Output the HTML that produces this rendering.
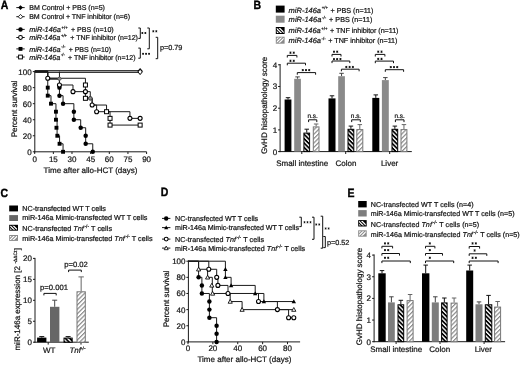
<!DOCTYPE html>
<html><head><meta charset="utf-8"><title>Figure</title>
<style>html,body{margin:0;padding:0;background:#fff;width:520px;height:365px;overflow:hidden}svg{display:block;will-change:transform}text{font-family:"Liberation Sans", sans-serif;text-rendering:geometricPrecision}</style>
</head><body>
<svg width="520" height="365" viewBox="0 0 520 365" font-family='"Liberation Sans", sans-serif'>
<defs>
<pattern id="hb" patternUnits="userSpaceOnUse" width="3.1" height="3.1" patternTransform="rotate(-45)">
  <rect width="3.1" height="3.1" fill="#000"/><rect x="0" width="1.35" height="3.1" fill="#fff"/>
</pattern>
<pattern id="hg" patternUnits="userSpaceOnUse" width="3.1" height="3.1" patternTransform="rotate(45)">
  <rect width="3.1" height="3.1" fill="#fff"/><rect x="0" width="1.2" height="3.1" fill="#8a8a8a"/>
</pattern>
<pattern id="lhb" patternUnits="userSpaceOnUse" width="3.7" height="3.7" patternTransform="rotate(-45)">
  <rect width="3.7" height="3.7" fill="#000"/><rect x="0" width="1.5" height="3.7" fill="#fff"/>
</pattern>
<pattern id="lhg" patternUnits="userSpaceOnUse" width="3.7" height="3.7" patternTransform="rotate(45)">
  <rect width="3.7" height="3.7" fill="#fff"/><rect x="0" width="1.6" height="3.7" fill="#8a8a8a"/>
</pattern>
<clipPath id="lc1"><rect x="276.7" y="27.9" width="7.000000000000001" height="5.2"/></clipPath><clipPath id="lc2"><rect x="276.7" y="37.6" width="7.000000000000001" height="5.2"/></clipPath><clipPath id="lc3"><rect x="10.1" y="225.70000000000002" width="7.000000000000001" height="4.1000000000000005"/></clipPath><clipPath id="lc4"><rect x="10.1" y="235.9" width="7.000000000000001" height="4.1000000000000005"/></clipPath><clipPath id="lc5"><rect x="359.09999999999997" y="221.0" width="6.7" height="4.6000000000000005"/></clipPath><clipPath id="lc6"><rect x="359.09999999999997" y="231.20000000000002" width="6.7" height="4.6000000000000005"/></clipPath></defs>
<rect width="520" height="365" fill="#fff"/>
<text transform="translate(0.8 9.2) scale(1 1.14)" x="0" y="0" font-size="10.5" font-weight="bold" fill="#000" stroke="#000" stroke-width="0.35">A</text>
<line x1="16.3" y1="7.6" x2="24.7" y2="7.6" stroke="#1a1a1a" stroke-width="1.0"/>
<path d="M18.125 7.6L20.5 5.225L22.875 7.6L20.5 9.975Z" fill="#000"/>
<line x1="16.3" y1="16.7" x2="24.7" y2="16.7" stroke="#1a1a1a" stroke-width="1.0"/>
<path d="M18.22 16.7L20.5 14.42L22.78 16.7L20.5 18.98Z" fill="#fff" stroke="#000" stroke-width="0.855"/>
<line x1="16.3" y1="29.4" x2="24.7" y2="29.4" stroke="#1a1a1a" stroke-width="1.0"/>
<circle cx="20.5" cy="29.4" r="2.2325" fill="#000"/>
<line x1="16.3" y1="37.5" x2="24.7" y2="37.5" stroke="#1a1a1a" stroke-width="1.0"/>
<circle cx="20.5" cy="37.5" r="1.9" fill="#fff" stroke="#000" stroke-width="1.045"/>
<line x1="16.3" y1="48.9" x2="24.7" y2="48.9" stroke="#1a1a1a" stroke-width="1.0"/>
<rect x="18.552500000000002" y="46.9525" width="3.8949999999999996" height="3.8949999999999996" fill="#000"/>
<line x1="16.3" y1="57.0" x2="24.7" y2="57.0" stroke="#1a1a1a" stroke-width="1.0"/>
<rect x="18.6" y="55.1" width="3.8" height="3.8" fill="#fff" stroke="#000" stroke-width="0.95"/>
<text x="29.2" y="10.1" font-size="7.05" text-anchor="start" font-weight="normal" font-style="normal" fill="#151515" stroke="#151515" stroke-width="0.22" textLength="75.70" lengthAdjust="spacing">BM Control + PBS (n=5)</text>
<text x="29.2" y="19.3" font-size="7.05" text-anchor="start" font-weight="normal" font-style="normal" fill="#151515" stroke="#151515" stroke-width="0.22" textLength="100.90" lengthAdjust="spacing">BM Control + TNF inhibitor (n=6)</text>
<text x="29.2" y="31.9" font-size="7.05" text-anchor="start" font-weight="normal" font-style="normal" fill="#151515" stroke="#151515" stroke-width="0.22" textLength="84.50" lengthAdjust="spacing"><tspan font-style="italic" font-size="7.3">miR-146a</tspan><tspan font-size="4.3" dy="-3.4" dx="0.7" font-style="normal">+/+</tspan><tspan dy="3.4" dx="1.4"> </tspan>+ PBS (n=10)</text>
<text x="29.2" y="40.4" font-size="7.05" text-anchor="start" font-weight="normal" font-style="normal" fill="#151515" stroke="#151515" stroke-width="0.22" textLength="108.70" lengthAdjust="spacing"><tspan font-style="italic" font-size="7.3">miR-146a</tspan><tspan font-size="4.3" dy="-3.4" dx="0.7" font-style="normal">+/+</tspan><tspan dy="3.4" dx="1.4"> </tspan>+ TNF inhibitor (n=12)</text>
<text x="29.2" y="51.6" font-size="7.05" text-anchor="start" font-weight="normal" font-style="normal" fill="#151515" stroke="#151515" stroke-width="0.22" textLength="81.90" lengthAdjust="spacing"><tspan font-style="italic" font-size="7.3">miR-146a</tspan><tspan font-size="4.3" dy="-3.4" dx="0.7" font-style="normal">-/-</tspan><tspan dy="3.4" dx="1.4"> </tspan>+ PBS (n=10)</text>
<text x="29.2" y="59.7" font-size="7.05" text-anchor="start" font-weight="normal" font-style="normal" fill="#151515" stroke="#151515" stroke-width="0.22" textLength="106.30" lengthAdjust="spacing"><tspan font-style="italic" font-size="7.3">miR-146a</tspan><tspan font-size="4.3" dy="-3.4" dx="0.7" font-style="normal">-/-</tspan><tspan dy="3.4" dx="1.4"> </tspan>+ TNF inhibitor (n=12)</text>
<path d="M138.3 28.0H140.3V38.4H138.3" stroke="#111" stroke-width="1.0" fill="none"/>
<path d="M142.40 32.05L142.40 33.95M141.58 32.52L143.22 33.48M143.22 32.52L141.58 33.48M145.40 32.05L145.40 33.95M144.58 32.52L146.22 33.48M146.22 32.52L144.58 33.48" stroke="#111" stroke-width="0.95" fill="none"/>
<path d="M138.3 48.1H140.3V58.2H138.3" stroke="#111" stroke-width="1.0" fill="none"/>
<path d="M143.10 52.85L143.10 54.75M142.28 53.32L143.92 54.27M143.92 53.32L142.28 54.27M146.10 52.85L146.10 54.75M145.28 53.32L146.92 54.27M146.92 53.32L145.28 54.27M149.10 52.85L149.10 54.75M148.28 53.32L149.92 54.27M149.92 53.32L148.28 54.27" stroke="#111" stroke-width="0.95" fill="none"/>
<path d="M147.3 28.0H149.3V48.8H147.3" stroke="#111" stroke-width="1.0" fill="none"/>
<path d="M153.35 30.35L153.35 32.25M152.53 30.82L154.17 31.78M154.17 30.82L152.53 31.78M156.35 30.35L156.35 32.25M155.53 30.82L157.17 31.78M157.17 30.82L155.53 31.78" stroke="#111" stroke-width="0.95" fill="none"/>
<path d="M155.7 37.3H157.7V58.7H155.7" stroke="#111" stroke-width="1.0" fill="none"/>
<text x="159.9" y="50.3" font-size="7.3" text-anchor="start" font-weight="normal" font-style="normal" fill="#151515" stroke="#151515" stroke-width="0.22">p=0.79</text>
<line x1="34.8" y1="71.1" x2="34.8" y2="152.3" stroke="#1a1a1a" stroke-width="1"/>
<line x1="34.3" y1="151.8" x2="146.6" y2="151.8" stroke="#1a1a1a" stroke-width="1"/>
<line x1="32.8" y1="151.8" x2="34.8" y2="151.8" stroke="#1a1a1a" stroke-width="1"/>
<text x="31.7" y="154.70000000000002" font-size="8" text-anchor="end" font-weight="normal" font-style="normal" fill="#151515" stroke="#151515" stroke-width="0.22">0</text>
<line x1="32.8" y1="135.76000000000002" x2="34.8" y2="135.76000000000002" stroke="#1a1a1a" stroke-width="1"/>
<text x="31.7" y="138.66000000000003" font-size="8" text-anchor="end" font-weight="normal" font-style="normal" fill="#151515" stroke="#151515" stroke-width="0.22">20</text>
<line x1="32.8" y1="119.72000000000001" x2="34.8" y2="119.72000000000001" stroke="#1a1a1a" stroke-width="1"/>
<text x="31.7" y="122.62000000000002" font-size="8" text-anchor="end" font-weight="normal" font-style="normal" fill="#151515" stroke="#151515" stroke-width="0.22">40</text>
<line x1="32.8" y1="103.68" x2="34.8" y2="103.68" stroke="#1a1a1a" stroke-width="1"/>
<text x="31.7" y="106.58000000000001" font-size="8" text-anchor="end" font-weight="normal" font-style="normal" fill="#151515" stroke="#151515" stroke-width="0.22">60</text>
<line x1="32.8" y1="87.64000000000001" x2="34.8" y2="87.64000000000001" stroke="#1a1a1a" stroke-width="1"/>
<text x="31.7" y="90.54000000000002" font-size="8" text-anchor="end" font-weight="normal" font-style="normal" fill="#151515" stroke="#151515" stroke-width="0.22">80</text>
<line x1="32.8" y1="71.60000000000001" x2="34.8" y2="71.60000000000001" stroke="#1a1a1a" stroke-width="1"/>
<text x="31.7" y="74.50000000000001" font-size="8" text-anchor="end" font-weight="normal" font-style="normal" fill="#151515" stroke="#151515" stroke-width="0.22">100</text>
<line x1="34.7" y1="151.8" x2="34.7" y2="154.0" stroke="#1a1a1a" stroke-width="1"/>
<text x="34.7" y="162.0" font-size="8" text-anchor="middle" font-weight="normal" font-style="normal" fill="#151515" stroke="#151515" stroke-width="0.22">0</text>
<line x1="53.349500000000006" y1="151.8" x2="53.349500000000006" y2="154.0" stroke="#1a1a1a" stroke-width="1"/>
<text x="53.349500000000006" y="162.0" font-size="8" text-anchor="middle" font-weight="normal" font-style="normal" fill="#151515" stroke="#151515" stroke-width="0.22">15</text>
<line x1="71.999" y1="151.8" x2="71.999" y2="154.0" stroke="#1a1a1a" stroke-width="1"/>
<text x="71.999" y="162.0" font-size="8" text-anchor="middle" font-weight="normal" font-style="normal" fill="#151515" stroke="#151515" stroke-width="0.22">30</text>
<line x1="90.64850000000001" y1="151.8" x2="90.64850000000001" y2="154.0" stroke="#1a1a1a" stroke-width="1"/>
<text x="90.64850000000001" y="162.0" font-size="8" text-anchor="middle" font-weight="normal" font-style="normal" fill="#151515" stroke="#151515" stroke-width="0.22">45</text>
<line x1="109.298" y1="151.8" x2="109.298" y2="154.0" stroke="#1a1a1a" stroke-width="1"/>
<text x="109.298" y="162.0" font-size="8" text-anchor="middle" font-weight="normal" font-style="normal" fill="#151515" stroke="#151515" stroke-width="0.22">60</text>
<line x1="127.9475" y1="151.8" x2="127.9475" y2="154.0" stroke="#1a1a1a" stroke-width="1"/>
<text x="127.9475" y="162.0" font-size="8" text-anchor="middle" font-weight="normal" font-style="normal" fill="#151515" stroke="#151515" stroke-width="0.22">75</text>
<line x1="146.597" y1="151.8" x2="146.597" y2="154.0" stroke="#1a1a1a" stroke-width="1"/>
<text x="146.597" y="162.0" font-size="8" text-anchor="middle" font-weight="normal" font-style="normal" fill="#151515" stroke="#151515" stroke-width="0.22">90</text>
<text x="90.5" y="173.3" font-size="8" text-anchor="middle" font-weight="normal" font-style="normal" fill="#151515" stroke="#151515" stroke-width="0.22">Time after allo-HCT (days)</text>
<text x="17.0" y="108.9" font-size="8" text-anchor="middle" font-weight="normal" font-style="normal" fill="#151515" stroke="#151515" stroke-width="0.22" transform="rotate(-90 17.0 108.9)">Percent survival</text>
<path d="M34.7 70.55H140.13184" stroke="#383838" stroke-width="1.05" fill="none"/>
<path d="M34.7 72.35H140.13184" stroke="#383838" stroke-width="1.05" fill="none"/>
<path d="M34.7 71.45H140.13184" stroke="#8a8a8a" stroke-width="0.8" fill="none"/>
<path d="M34.7 71.4H47.754650000000005" stroke="#111" stroke-width="1.8" fill="none"/>
<path d="M34.70 71.60H47.75V78.26H85.43V98.31H92.14V105.04H106.56V111.70H110.04V125.09H140.13V125.09" stroke="#1a1a1a" stroke-width="1.0" fill="none"/>
<path d="M47.754650000000005 79.45960000000001H59.44167" stroke="#555" stroke-width="1.0" fill="none"/>
<path d="M34.70 71.60H47.75V78.26H59.44V84.99H72.99V91.65H90.28V98.31H92.14V105.04H96.62V111.70H129.94V118.36H140.13V118.36" stroke="#1a1a1a" stroke-width="1.0" fill="none"/>
<path d="M59.44 71.60H59.44V95.66H63.05V103.68H73.86V119.72H80.70V127.74H85.68V143.78H92.76V151.80" stroke="#1a1a1a" stroke-width="1.0" fill="none"/>
<path d="M34.70 71.60H47.75V95.66H50.99V103.68H55.96V119.72H57.08V135.76H59.57V143.78H63.05V151.80" stroke="#1a1a1a" stroke-width="1.0" fill="none"/>
<rect x="45.80715000000001" y="85.69250000000001" width="3.8949999999999996" height="3.8949999999999996" fill="#000"/>
<rect x="45.80715000000001" y="93.7125" width="3.8949999999999996" height="3.8949999999999996" fill="#000"/>
<rect x="49.039730000000006" y="101.7325" width="3.8949999999999996" height="3.8949999999999996" fill="#000"/>
<rect x="54.012930000000004" y="109.75250000000001" width="3.8949999999999996" height="3.8949999999999996" fill="#000"/>
<rect x="54.012930000000004" y="117.77250000000001" width="3.8949999999999996" height="3.8949999999999996" fill="#000"/>
<rect x="54.510250000000006" y="125.7925" width="3.8949999999999996" height="3.8949999999999996" fill="#000"/>
<rect x="55.38056000000001" y="133.81250000000003" width="3.8949999999999996" height="3.8949999999999996" fill="#000"/>
<rect x="57.618500000000004" y="141.8325" width="3.8949999999999996" height="3.8949999999999996" fill="#000"/>
<rect x="61.099740000000004" y="149.85250000000002" width="3.8949999999999996" height="3.8949999999999996" fill="#000"/>
<circle cx="59.44167" cy="87.64000000000001" r="2.2325" fill="#000"/>
<circle cx="59.44167" cy="95.66000000000001" r="2.2325" fill="#000"/>
<circle cx="63.04724" cy="103.68" r="2.2325" fill="#000"/>
<circle cx="73.86395" cy="111.70000000000002" r="2.2325" fill="#000"/>
<circle cx="73.86395" cy="119.72000000000001" r="2.2325" fill="#000"/>
<circle cx="80.7021" cy="127.74000000000001" r="2.2325" fill="#000"/>
<circle cx="85.67530000000001" cy="135.76000000000002" r="2.2325" fill="#000"/>
<circle cx="85.67530000000001" cy="143.78" r="2.2325" fill="#000"/>
<circle cx="92.76211" cy="151.8" r="2.2325" fill="#000"/>
<path d="M57.281670000000005 78.81800000000001L59.44167 76.65800000000002L61.60167 78.81800000000001L59.44167 80.97800000000001Z" fill="#888" stroke="#333" stroke-width="0.7"/>
<rect x="83.42663999999999" y="82.99340000000001" width="4.0" height="4.0" fill="#fff" stroke="#000" stroke-width="1.0"/>
<rect x="83.42663999999999" y="96.3066" width="4.0" height="4.0" fill="#fff" stroke="#000" stroke-width="1.0"/>
<rect x="104.56274" y="109.70000000000002" width="4.0" height="4.0" fill="#fff" stroke="#000" stroke-width="1.0"/>
<rect x="108.04398" y="116.35660000000001" width="4.0" height="4.0" fill="#fff" stroke="#000" stroke-width="1.0"/>
<rect x="108.04398" y="123.09340000000002" width="4.0" height="4.0" fill="#fff" stroke="#000" stroke-width="1.0"/>
<rect x="138.13184" y="123.09340000000002" width="4.0" height="4.0" fill="#fff" stroke="#000" stroke-width="1.0"/>
<circle cx="47.754650000000005" cy="78.2566" r="2.0" fill="#fff" stroke="#000" stroke-width="1.1"/>
<circle cx="59.44167" cy="84.99340000000001" r="2.0" fill="#fff" stroke="#000" stroke-width="1.1"/>
<circle cx="72.99364" cy="91.65" r="2.0" fill="#fff" stroke="#000" stroke-width="1.1"/>
<circle cx="85.42663999999999" cy="91.65" r="2.0" fill="#fff" stroke="#000" stroke-width="1.1"/>
<circle cx="92.14046000000002" cy="105.04340000000002" r="2.0" fill="#fff" stroke="#000" stroke-width="1.1"/>
<circle cx="96.61634000000001" cy="111.70000000000002" r="2.0" fill="#fff" stroke="#000" stroke-width="1.1"/>
<circle cx="129.93678" cy="118.35660000000001" r="2.0" fill="#fff" stroke="#000" stroke-width="1.1"/>
<circle cx="140.13184" cy="118.35660000000001" r="2.0" fill="#fff" stroke="#000" stroke-width="1.1"/>
<circle cx="90.27551000000001" cy="98.3066" r="1.9" fill="#8a8a8a" stroke="#333" stroke-width="0.9"/>
<path d="M137.53184000000002 71.0L140.13184 67.9L142.73184 71.0L140.13184 74.1Z" fill="#000"/>
<path d="M137.93184000000002 71.9L140.13184 69.2L142.33184 71.9L140.13184 74.6Z" fill="#fff" stroke="#000" stroke-width="1.0"/>
<text transform="translate(253.4 9.2) scale(1 1.14)" x="0" y="0" font-size="10.5" font-weight="bold" fill="#000" stroke="#000" stroke-width="0.35">B</text>
<rect x="275.8" y="5.6" width="8.8" height="7.0" fill="#000"/>
<rect x="275.8" y="15.7" width="8.8" height="7.0" fill="#8a8a8a"/>
<rect x="275.8" y="27.0" width="8.8" height="7.0" fill="#000"/>
<path d="M270.50 25.50L280.50 35.50M273.70 25.50L283.70 35.50M276.90 25.50L286.90 35.50" stroke="#fff" stroke-width="1.25" clip-path="url(#lc1)"/>
<rect x="275.8" y="36.7" width="8.8" height="7.0" fill="#8a8a8a"/>
<path d="M270.50 45.20L280.50 35.20M273.70 45.20L283.70 35.20M276.90 45.20L286.90 35.20" stroke="#fff" stroke-width="1.25" clip-path="url(#lc2)"/>
<text x="288.6" y="12.6" font-size="7.2" text-anchor="start" font-weight="normal" font-style="normal" fill="#151515" stroke="#151515" stroke-width="0.22" textLength="84.90" lengthAdjust="spacing"><tspan font-style="italic" font-size="7.5">miR-146a</tspan><tspan font-size="4.3" dy="-3.4" dx="0.7" font-style="normal">+/+</tspan><tspan dy="3.4" dx="0.7"> </tspan>+ PBS (n=11)</text>
<text x="288.6" y="22.4" font-size="7.2" text-anchor="start" font-weight="normal" font-style="normal" fill="#151515" stroke="#151515" stroke-width="0.22" textLength="83.90" lengthAdjust="spacing"><tspan font-style="italic" font-size="7.5">miR-146a</tspan><tspan font-size="4.3" dy="-3.4" dx="0.7" font-style="normal">-/-</tspan><tspan dy="3.4" dx="0.7"> </tspan>+ PBS (n=11)</text>
<text x="288.6" y="33.0" font-size="7.2" text-anchor="start" font-weight="normal" font-style="normal" fill="#151515" stroke="#151515" stroke-width="0.22" textLength="109.90" lengthAdjust="spacing"><tspan font-style="italic" font-size="7.5">miR-146a</tspan><tspan font-size="4.3" dy="-3.4" dx="0.7" font-style="normal">+/+</tspan><tspan dy="3.4" dx="0.7"> </tspan>+ TNF inhibitor (n=11)</text>
<text x="288.6" y="43.1" font-size="7.2" text-anchor="start" font-weight="normal" font-style="normal" fill="#151515" stroke="#151515" stroke-width="0.22" textLength="108.90" lengthAdjust="spacing"><tspan font-style="italic" font-size="7.5">miR-146a</tspan><tspan font-size="4.3" dy="-3.4" dx="0.7" font-style="normal">-/-</tspan><tspan dy="3.4" dx="0.7"> </tspan>+ TNF inhibitor (n=11)</text>
<line x1="280.1" y1="64.0" x2="280.1" y2="152.1" stroke="#1a1a1a" stroke-width="1"/>
<line x1="279.6" y1="151.6" x2="411.8" y2="151.6" stroke="#1a1a1a" stroke-width="1"/>
<line x1="278.1" y1="151.6" x2="280.1" y2="151.6" stroke="#1a1a1a" stroke-width="1"/>
<text x="277.3" y="154.5" font-size="8" text-anchor="end" font-weight="normal" font-style="normal" fill="#151515" stroke="#151515" stroke-width="0.22">0</text>
<line x1="278.1" y1="129.9" x2="280.1" y2="129.9" stroke="#1a1a1a" stroke-width="1"/>
<text x="277.3" y="132.8" font-size="8" text-anchor="end" font-weight="normal" font-style="normal" fill="#151515" stroke="#151515" stroke-width="0.22">1</text>
<line x1="278.1" y1="108.19999999999999" x2="280.1" y2="108.19999999999999" stroke="#1a1a1a" stroke-width="1"/>
<text x="277.3" y="111.1" font-size="8" text-anchor="end" font-weight="normal" font-style="normal" fill="#151515" stroke="#151515" stroke-width="0.22">2</text>
<line x1="278.1" y1="86.5" x2="280.1" y2="86.5" stroke="#1a1a1a" stroke-width="1"/>
<text x="277.3" y="89.4" font-size="8" text-anchor="end" font-weight="normal" font-style="normal" fill="#151515" stroke="#151515" stroke-width="0.22">3</text>
<line x1="278.1" y1="64.8" x2="280.1" y2="64.8" stroke="#1a1a1a" stroke-width="1"/>
<text x="277.3" y="67.7" font-size="8" text-anchor="end" font-weight="normal" font-style="normal" fill="#151515" stroke="#151515" stroke-width="0.22">4</text>
<line x1="301.8" y1="151.6" x2="301.8" y2="154.0" stroke="#1a1a1a" stroke-width="1"/>
<line x1="345.7" y1="151.6" x2="345.7" y2="154.0" stroke="#1a1a1a" stroke-width="1"/>
<line x1="389.7" y1="151.6" x2="389.7" y2="154.0" stroke="#1a1a1a" stroke-width="1"/>
<text x="302.2" y="165.8" font-size="8" text-anchor="middle" font-weight="normal" font-style="normal" fill="#151515" stroke="#151515" stroke-width="0.22">Small intestine</text>
<text x="346.0" y="165.8" font-size="8" text-anchor="middle" font-weight="normal" font-style="normal" fill="#151515" stroke="#151515" stroke-width="0.22">Colon</text>
<text x="389.6" y="165.8" font-size="8" text-anchor="middle" font-weight="normal" font-style="normal" fill="#151515" stroke="#151515" stroke-width="0.22">Liver</text>
<text x="267.5" y="105.4" font-size="8" text-anchor="middle" font-weight="normal" font-style="normal" fill="#151515" stroke="#151515" stroke-width="0.22" transform="rotate(-90 267.5 105.4)">GvHD histopathology score</text>
<line x1="288.0" y1="99.5" x2="288.0" y2="97.7" stroke="#111" stroke-width="1.0"/>
<line x1="285.75" y1="97.7" x2="290.25" y2="97.7" stroke="#111" stroke-width="1.0"/>
<rect x="284.6" y="99.5" width="6.7999999999999545" height="52.099999999999994" fill="#000"/>
<line x1="297.54999999999995" y1="78.8" x2="297.54999999999995" y2="76.9" stroke="#444" stroke-width="1.0"/>
<line x1="295.29999999999995" y1="76.9" x2="299.79999999999995" y2="76.9" stroke="#444" stroke-width="1.0"/>
<rect x="294.2" y="78.8" width="6.699999999999989" height="72.8" fill="#8a8a8a"/>
<line x1="306.75" y1="132.6" x2="306.75" y2="129.2" stroke="#111" stroke-width="1.0"/>
<line x1="304.5" y1="129.2" x2="309.0" y2="129.2" stroke="#111" stroke-width="1.0"/>
<rect x="303.9" y="133.1" width="5.7000000000000455" height="18.5" fill="url(#hb)" stroke="#000" stroke-width="1"/>
<line x1="316.15" y1="126.4" x2="316.15" y2="124.0" stroke="#666" stroke-width="1.0"/>
<line x1="313.9" y1="124.0" x2="318.4" y2="124.0" stroke="#666" stroke-width="1.0"/>
<rect x="313.3" y="126.9" width="5.699999999999989" height="24.69999999999999" fill="url(#hg)" stroke="#777" stroke-width="1"/>
<line x1="332.0" y1="98.4" x2="332.0" y2="95.8" stroke="#111" stroke-width="1.0"/>
<line x1="329.75" y1="95.8" x2="334.25" y2="95.8" stroke="#111" stroke-width="1.0"/>
<rect x="328.5" y="98.4" width="7.0" height="53.19999999999999" fill="#000"/>
<line x1="341.54999999999995" y1="76.2" x2="341.54999999999995" y2="73.3" stroke="#444" stroke-width="1.0"/>
<line x1="339.29999999999995" y1="73.3" x2="343.79999999999995" y2="73.3" stroke="#444" stroke-width="1.0"/>
<rect x="338.2" y="76.2" width="6.699999999999989" height="75.39999999999999" fill="#8a8a8a"/>
<line x1="350.9" y1="128.8" x2="350.9" y2="126.1" stroke="#111" stroke-width="1.0"/>
<line x1="348.65" y1="126.1" x2="353.15" y2="126.1" stroke="#111" stroke-width="1.0"/>
<rect x="348.0" y="129.3" width="5.800000000000011" height="22.299999999999983" fill="url(#hb)" stroke="#000" stroke-width="1"/>
<line x1="359.8" y1="129.1" x2="359.8" y2="124.6" stroke="#666" stroke-width="1.0"/>
<line x1="357.55" y1="124.6" x2="362.05" y2="124.6" stroke="#666" stroke-width="1.0"/>
<rect x="356.8" y="129.6" width="6.0" height="22.0" fill="url(#hg)" stroke="#777" stroke-width="1"/>
<line x1="375.8" y1="97.9" x2="375.8" y2="94.9" stroke="#111" stroke-width="1.0"/>
<line x1="373.55" y1="94.9" x2="378.05" y2="94.9" stroke="#111" stroke-width="1.0"/>
<rect x="372.3" y="97.9" width="7.0" height="53.69999999999999" fill="#000"/>
<line x1="385.35" y1="80.1" x2="385.35" y2="77.6" stroke="#444" stroke-width="1.0"/>
<line x1="383.1" y1="77.6" x2="387.6" y2="77.6" stroke="#444" stroke-width="1.0"/>
<rect x="381.9" y="80.1" width="6.900000000000034" height="71.5" fill="#8a8a8a"/>
<line x1="394.85" y1="128.8" x2="394.85" y2="126.1" stroke="#111" stroke-width="1.0"/>
<line x1="392.6" y1="126.1" x2="397.1" y2="126.1" stroke="#111" stroke-width="1.0"/>
<rect x="392.0" y="129.3" width="5.699999999999989" height="22.299999999999983" fill="url(#hb)" stroke="#000" stroke-width="1"/>
<line x1="403.95" y1="129.1" x2="403.95" y2="124.6" stroke="#666" stroke-width="1.0"/>
<line x1="401.7" y1="124.6" x2="406.2" y2="124.6" stroke="#666" stroke-width="1.0"/>
<rect x="401.0" y="129.6" width="5.899999999999977" height="22.0" fill="url(#hg)" stroke="#777" stroke-width="1"/>
<path d="M287.3 57.5V55.4H296.9V57.5" stroke="#111" stroke-width="1.0" fill="none"/>
<path d="M290.48 51.62L290.48 53.78M289.54 52.16L291.41 53.24M291.41 52.16L289.54 53.24M293.73 51.62L293.73 53.78M292.79 52.16L294.66 53.24M294.66 52.16L292.79 53.24" stroke="#111" stroke-width="0.95" fill="none"/>
<path d="M287.3 65.3V63.2H305.5V65.3" stroke="#111" stroke-width="1.0" fill="none"/>
<path d="M290.48 59.72L290.48 61.88M289.54 60.26L291.41 61.34M291.41 60.26L289.54 61.34M293.73 59.72L293.73 61.88M292.79 60.26L294.66 61.34M294.66 60.26L292.79 61.34" stroke="#111" stroke-width="0.95" fill="none"/>
<path d="M297.3 74.69999999999999V72.6H315.6V74.69999999999999" stroke="#111" stroke-width="1.0" fill="none"/>
<path d="M302.75 69.02L302.75 71.18M301.81 69.56L303.69 70.64M303.69 69.56L301.81 70.64M306.00 69.02L306.00 71.18M305.06 69.56L306.94 70.64M306.94 69.56L305.06 70.64M309.25 69.02L309.25 71.18M308.31 69.56L310.19 70.64M310.19 69.56L308.31 70.64" stroke="#111" stroke-width="0.95" fill="none"/>
<path d="M332.0 56.5V54.4H341.0V56.5" stroke="#111" stroke-width="1.0" fill="none"/>
<path d="M333.98 50.62L333.98 52.78M333.04 51.16L334.91 52.24M334.91 51.16L333.04 52.24M337.23 50.62L337.23 52.78M336.29 51.16L338.16 52.24M338.16 51.16L336.29 52.24" stroke="#111" stroke-width="0.95" fill="none"/>
<path d="M332.0 63.1V61.0H349.8V63.1" stroke="#111" stroke-width="1.0" fill="none"/>
<path d="M333.95 58.02L333.95 60.18M333.01 58.56L334.89 59.64M334.89 58.56L333.01 59.64M337.20 58.02L337.20 60.18M336.26 58.56L338.14 59.64M338.14 58.56L336.26 59.64M340.45 58.02L340.45 60.18M339.51 58.56L341.39 59.64M341.39 58.56L339.51 59.64" stroke="#111" stroke-width="0.95" fill="none"/>
<path d="M341.4 71.3V69.2H359.1V71.3" stroke="#111" stroke-width="1.0" fill="none"/>
<path d="M346.35 65.92L346.35 68.08M345.41 66.46L347.29 67.54M347.29 66.46L345.41 67.54M349.60 65.92L349.60 68.08M348.66 66.46L350.54 67.54M350.54 66.46L348.66 67.54M352.85 65.92L352.85 68.08M351.91 66.46L353.79 67.54M353.79 66.46L351.91 67.54" stroke="#111" stroke-width="0.95" fill="none"/>
<path d="M375.3 56.5V54.4H384.9V56.5" stroke="#111" stroke-width="1.0" fill="none"/>
<path d="M378.27 50.62L378.27 52.78M377.34 51.16L379.21 52.24M379.21 51.16L377.34 52.24M381.52 50.62L381.52 52.78M380.59 51.16L382.46 52.24M382.46 51.16L380.59 52.24" stroke="#111" stroke-width="0.95" fill="none"/>
<path d="M375.3 63.2V61.1H393.5V63.2" stroke="#111" stroke-width="1.0" fill="none"/>
<path d="M378.27 57.82L378.27 59.98M377.34 58.36L379.21 59.44M379.21 58.36L377.34 59.44M381.52 57.82L381.52 59.98M380.59 58.36L382.46 59.44M382.46 58.36L380.59 59.44" stroke="#111" stroke-width="0.95" fill="none"/>
<path d="M385.3 71.8V69.7H403.6V71.8" stroke="#111" stroke-width="1.0" fill="none"/>
<path d="M390.75 66.02L390.75 68.18M389.81 66.56L391.69 67.64M391.69 66.56L389.81 67.64M394.00 66.02L394.00 68.18M393.06 66.56L394.94 67.64M394.94 66.56L393.06 67.64M397.25 66.02L397.25 68.18M396.31 66.56L398.19 67.64M398.19 66.56L396.31 67.64" stroke="#111" stroke-width="0.95" fill="none"/>
<path d="M308.6 122.1V119.8H316.8V122.1" stroke="#111" stroke-width="1.0" fill="none"/>
<text x="312.70000000000005" y="117.6" font-size="6.4" text-anchor="middle" font-weight="normal" font-style="normal" fill="#151515" stroke="#151515" stroke-width="0.22">n.s.</text>
<path d="M351.7 122.1V119.8H360.3V122.1" stroke="#111" stroke-width="1.0" fill="none"/>
<text x="356.0" y="117.6" font-size="6.4" text-anchor="middle" font-weight="normal" font-style="normal" fill="#151515" stroke="#151515" stroke-width="0.22">n.s.</text>
<path d="M395.4 122.1V119.8H404.0V122.1" stroke="#111" stroke-width="1.0" fill="none"/>
<text x="399.7" y="117.6" font-size="6.4" text-anchor="middle" font-weight="normal" font-style="normal" fill="#151515" stroke="#151515" stroke-width="0.22">n.s.</text>
<text transform="translate(0.6 197.2) scale(1 1.14)" x="0" y="0" font-size="10.5" font-weight="bold" fill="#000" stroke="#000" stroke-width="0.35">C</text>
<rect x="9.2" y="205.5" width="8.8" height="5.9" fill="#000"/>
<rect x="9.2" y="215.1" width="8.8" height="5.9" fill="#666"/>
<rect x="9.2" y="224.8" width="8.8" height="5.9" fill="#000"/>
<path d="M3.90 222.75L13.90 232.75M7.10 222.75L17.10 232.75M10.30 222.75L20.30 232.75" stroke="#fff" stroke-width="1.25" clip-path="url(#lc3)"/>
<rect x="9.2" y="235.0" width="8.8" height="5.9" fill="#8a8a8a"/>
<path d="M3.90 242.95L13.90 232.95M7.10 242.95L17.10 232.95M10.30 242.95L20.30 232.95" stroke="#fff" stroke-width="1.25" clip-path="url(#lc4)"/>
<text x="22.3" y="210.7" font-size="7.25" text-anchor="start" font-weight="normal" font-style="normal" fill="#151515" stroke="#151515" stroke-width="0.22" textLength="83.60" lengthAdjust="spacing">NC-transfected WT T cells</text>
<text x="22.3" y="220.4" font-size="7.25" text-anchor="start" font-weight="normal" font-style="normal" fill="#151515" stroke="#151515" stroke-width="0.22" textLength="125.10" lengthAdjust="spacing">miR-146a Mimic-transfected WT T cells</text>
<text x="22.3" y="230.9" font-size="7.25" text-anchor="start" font-weight="normal" font-style="normal" fill="#151515" stroke="#151515" stroke-width="0.22" textLength="89.70" lengthAdjust="spacing">NC-transfected <tspan font-style="italic">Tnf</tspan><tspan font-size="4.7" dy="-3.0" dx="0.7" font-style="normal">-/-</tspan><tspan dy="3.0" dx="0.2"> </tspan>T cells</text>
<text x="22.3" y="241.2" font-size="7.25" text-anchor="start" font-weight="normal" font-style="normal" fill="#151515" stroke="#151515" stroke-width="0.22" textLength="130.20" lengthAdjust="spacing">miR-146a Mimic-transfected <tspan font-style="italic">Tnf</tspan><tspan font-size="4.7" dy="-3.0" dx="0.7" font-style="normal">-/-</tspan><tspan dy="3.0" dx="0.2"> </tspan>T cells</text>
<line x1="35.0" y1="257.9" x2="35.0" y2="342.7" stroke="#1a1a1a" stroke-width="1"/>
<line x1="34.5" y1="342.2" x2="88.8" y2="342.2" stroke="#1a1a1a" stroke-width="1"/>
<line x1="33.0" y1="342.2" x2="35.0" y2="342.2" stroke="#1a1a1a" stroke-width="1"/>
<text x="31.9" y="345.09999999999997" font-size="8" text-anchor="end" font-weight="normal" font-style="normal" fill="#151515" stroke="#151515" stroke-width="0.22">0</text>
<line x1="33.0" y1="321.25" x2="35.0" y2="321.25" stroke="#1a1a1a" stroke-width="1"/>
<text x="31.9" y="324.15" font-size="8" text-anchor="end" font-weight="normal" font-style="normal" fill="#151515" stroke="#151515" stroke-width="0.22">5</text>
<line x1="33.0" y1="300.29999999999995" x2="35.0" y2="300.29999999999995" stroke="#1a1a1a" stroke-width="1"/>
<text x="31.9" y="303.19999999999993" font-size="8" text-anchor="end" font-weight="normal" font-style="normal" fill="#151515" stroke="#151515" stroke-width="0.22">10</text>
<line x1="33.0" y1="279.34999999999997" x2="35.0" y2="279.34999999999997" stroke="#1a1a1a" stroke-width="1"/>
<text x="31.9" y="282.24999999999994" font-size="8" text-anchor="end" font-weight="normal" font-style="normal" fill="#151515" stroke="#151515" stroke-width="0.22">15</text>
<line x1="33.0" y1="258.4" x2="35.0" y2="258.4" stroke="#1a1a1a" stroke-width="1"/>
<text x="31.9" y="261.29999999999995" font-size="8" text-anchor="end" font-weight="normal" font-style="normal" fill="#151515" stroke="#151515" stroke-width="0.22">20</text>
<line x1="48.2" y1="342.2" x2="48.2" y2="344.6" stroke="#1a1a1a" stroke-width="1"/>
<line x1="81.0" y1="342.2" x2="81.0" y2="344.6" stroke="#1a1a1a" stroke-width="1"/>
<line x1="41.75" y1="337.6" x2="41.75" y2="336.6" stroke="#111" stroke-width="1.0"/>
<line x1="39.25" y1="336.6" x2="44.25" y2="336.6" stroke="#111" stroke-width="1.0"/>
<rect x="37.1" y="337.6" width="9.299999999999997" height="4.599999999999966" fill="#000"/>
<line x1="54.7" y1="306.8" x2="54.7" y2="300.2" stroke="#444" stroke-width="1.0"/>
<line x1="52.2" y1="300.2" x2="57.2" y2="300.2" stroke="#444" stroke-width="1.0"/>
<rect x="50.0" y="306.8" width="9.399999999999999" height="35.39999999999998" fill="#666"/>
<line x1="68.1" y1="337.6" x2="68.1" y2="336.6" stroke="#111" stroke-width="1.0"/>
<line x1="65.6" y1="336.6" x2="70.6" y2="336.6" stroke="#111" stroke-width="1.0"/>
<rect x="64.0" y="338.1" width="8.200000000000003" height="4.099999999999966" fill="url(#hb)" stroke="#000" stroke-width="1"/>
<line x1="81.15" y1="291.3" x2="81.15" y2="276.9" stroke="#666" stroke-width="1.0"/>
<line x1="78.45" y1="276.9" x2="83.85000000000001" y2="276.9" stroke="#666" stroke-width="1.0"/>
<rect x="77.0" y="291.8" width="8.299999999999997" height="50.39999999999998" fill="url(#hg)" stroke="#777" stroke-width="1"/>
<path d="M43.9 295.4V293.4H56.2V295.4" stroke="#111" stroke-width="1.0" fill="none"/>
<text x="54.0" y="289.6" font-size="7.7" text-anchor="middle" font-weight="normal" font-style="normal" fill="#151515" stroke="#151515" stroke-width="0.22">p=0.001</text>
<path d="M68.6 272.1V270.1H81.3V272.1" stroke="#111" stroke-width="1.0" fill="none"/>
<text x="76.0" y="267.0" font-size="7.7" text-anchor="middle" font-weight="normal" font-style="normal" fill="#151515" stroke="#151515" stroke-width="0.22">p=0.02</text>
<text x="49.2" y="353.1" font-size="8" text-anchor="middle" font-weight="normal" font-style="normal" fill="#151515" stroke="#151515" stroke-width="0.22">WT</text>
<text x="69.4" y="353.1" font-size="8" text-anchor="start" font-weight="normal" font-style="normal" fill="#151515" stroke="#151515" stroke-width="0.22"><tspan font-style="italic">Tnf</tspan><tspan font-size="4.8" dy="-2.8">-/-</tspan></text>
<text x="20.5" y="299.3" font-size="8" text-anchor="middle" font-weight="normal" font-style="normal" fill="#151515" stroke="#151515" stroke-width="0.22" transform="rotate(-90 20.5 299.3)">miR-146a expression [2<tspan font-size="4.8" dy="-3.0" dx="2.6">-ΔΔCt</tspan><tspan dy="3.0" dx="0.4">]</tspan></text>
<text transform="translate(160.8 196.2) scale(1 1.14)" x="0" y="0" font-size="10.5" font-weight="bold" fill="#000" stroke="#000" stroke-width="0.35">D</text>
<line x1="162.0" y1="218.4" x2="170.39999999999998" y2="218.4" stroke="#1a1a1a" stroke-width="1.0"/>
<circle cx="166.2" cy="218.4" r="2.2325" fill="#000"/>
<line x1="162.0" y1="227.6" x2="170.39999999999998" y2="227.6" stroke="#1a1a1a" stroke-width="1.0"/>
<path d="M164.10999999999999 229.272L166.2 225.51L168.29 229.272Z" fill="#000"/>
<line x1="162.0" y1="239.1" x2="170.39999999999998" y2="239.1" stroke="#1a1a1a" stroke-width="1.0"/>
<circle cx="166.2" cy="239.1" r="1.9" fill="#fff" stroke="#000" stroke-width="1.045"/>
<line x1="162.0" y1="248.1" x2="170.39999999999998" y2="248.1" stroke="#1a1a1a" stroke-width="1.0"/>
<path d="M164.20499999999998 249.696L166.2 246.105L168.195 249.696Z" fill="#fff" stroke="#000" stroke-width="0.8075"/>
<text x="175.0" y="221.0" font-size="7.15" text-anchor="start" font-weight="normal" font-style="normal" fill="#151515" stroke="#151515" stroke-width="0.22" textLength="83.20" lengthAdjust="spacing">NC-transfected WT T cells</text>
<text x="175.0" y="230.2" font-size="7.15" text-anchor="start" font-weight="normal" font-style="normal" fill="#151515" stroke="#151515" stroke-width="0.22" textLength="124.00" lengthAdjust="spacing">miR-146a Mimic-transfected WT T cells</text>
<text x="175.0" y="241.7" font-size="7.15" text-anchor="start" font-weight="normal" font-style="normal" fill="#151515" stroke="#151515" stroke-width="0.22" textLength="89.00" lengthAdjust="spacing">NC-transfected <tspan font-style="italic">Tnf</tspan><tspan font-size="4.7" dy="-3.0" dx="0.7" font-style="normal">-/-</tspan><tspan dy="3.0" dx="0.2"> </tspan>T cells</text>
<text x="175.0" y="250.7" font-size="7.15" text-anchor="start" font-weight="normal" font-style="normal" fill="#151515" stroke="#151515" stroke-width="0.22" textLength="130.10" lengthAdjust="spacing">miR-146a Mimic-transfected <tspan font-style="italic">Tnf</tspan><tspan font-size="4.7" dy="-3.0" dx="0.7" font-style="normal">-/-</tspan><tspan dy="3.0" dx="0.2"> </tspan>T cells</text>
<path d="M299.3 217.2H301.3V226.6H299.3" stroke="#111" stroke-width="1.0" fill="none"/>
<path d="M304.50 221.40L304.50 223.20M303.72 221.85L305.28 222.75M305.28 221.85L303.72 222.75M307.50 221.40L307.50 223.20M306.72 221.85L308.28 222.75M308.28 221.85L306.72 222.75M310.50 221.40L310.50 223.20M309.72 221.85L311.28 222.75M311.28 221.85L309.72 222.75" stroke="#111" stroke-width="0.95" fill="none"/>
<path d="M312.0 217.2H314.0V239.3H312.0" stroke="#111" stroke-width="1.0" fill="none"/>
<path d="M316.30 223.60L316.30 225.40M315.52 224.05L317.08 224.95M317.08 224.05L315.52 224.95M319.30 223.60L319.30 225.40M318.52 224.05L320.08 224.95M320.08 224.05L318.52 224.95" stroke="#111" stroke-width="0.95" fill="none"/>
<path d="M320.7 216.2H322.7V248.2H320.7" stroke="#111" stroke-width="1.0" fill="none"/>
<path d="M325.60 227.60L325.60 229.40M324.82 228.05L326.38 228.95M326.38 228.05L324.82 228.95M328.60 227.60L328.60 229.40M327.82 228.05L329.38 228.95M329.38 228.05L327.82 228.95" stroke="#111" stroke-width="0.95" fill="none"/>
<path d="M323.3 236.5H325.3V247.6H323.3" stroke="#111" stroke-width="1.0" fill="none"/>
<text x="326.9" y="245.0" font-size="7.3" text-anchor="start" font-weight="normal" font-style="normal" fill="#151515" stroke="#151515" stroke-width="0.22">p=0.52</text>
<line x1="188.4" y1="260.7" x2="188.4" y2="342.4" stroke="#1a1a1a" stroke-width="1"/>
<line x1="187.9" y1="341.9" x2="300.1" y2="341.9" stroke="#1a1a1a" stroke-width="1"/>
<line x1="186.4" y1="341.9" x2="188.4" y2="341.9" stroke="#1a1a1a" stroke-width="1"/>
<text x="185.5" y="344.79999999999995" font-size="8" text-anchor="end" font-weight="normal" font-style="normal" fill="#151515" stroke="#151515" stroke-width="0.22">0</text>
<line x1="186.4" y1="325.76" x2="188.4" y2="325.76" stroke="#1a1a1a" stroke-width="1"/>
<text x="185.5" y="328.65999999999997" font-size="8" text-anchor="end" font-weight="normal" font-style="normal" fill="#151515" stroke="#151515" stroke-width="0.22">20</text>
<line x1="186.4" y1="309.62" x2="188.4" y2="309.62" stroke="#1a1a1a" stroke-width="1"/>
<text x="185.5" y="312.52" font-size="8" text-anchor="end" font-weight="normal" font-style="normal" fill="#151515" stroke="#151515" stroke-width="0.22">40</text>
<line x1="186.4" y1="293.47999999999996" x2="188.4" y2="293.47999999999996" stroke="#1a1a1a" stroke-width="1"/>
<text x="185.5" y="296.37999999999994" font-size="8" text-anchor="end" font-weight="normal" font-style="normal" fill="#151515" stroke="#151515" stroke-width="0.22">60</text>
<line x1="186.4" y1="277.34" x2="188.4" y2="277.34" stroke="#1a1a1a" stroke-width="1"/>
<text x="185.5" y="280.23999999999995" font-size="8" text-anchor="end" font-weight="normal" font-style="normal" fill="#151515" stroke="#151515" stroke-width="0.22">80</text>
<line x1="186.4" y1="261.2" x2="188.4" y2="261.2" stroke="#1a1a1a" stroke-width="1"/>
<text x="185.5" y="264.09999999999997" font-size="8" text-anchor="end" font-weight="normal" font-style="normal" fill="#151515" stroke="#151515" stroke-width="0.22">100</text>
<line x1="188.0" y1="341.9" x2="188.0" y2="344.2" stroke="#1a1a1a" stroke-width="1"/>
<text x="188.0" y="351.2" font-size="8" text-anchor="middle" font-weight="normal" font-style="normal" fill="#151515" stroke="#151515" stroke-width="0.22">0</text>
<line x1="212.874" y1="341.9" x2="212.874" y2="344.2" stroke="#1a1a1a" stroke-width="1"/>
<text x="212.874" y="351.2" font-size="8" text-anchor="middle" font-weight="normal" font-style="normal" fill="#151515" stroke="#151515" stroke-width="0.22">20</text>
<line x1="237.748" y1="341.9" x2="237.748" y2="344.2" stroke="#1a1a1a" stroke-width="1"/>
<text x="237.748" y="351.2" font-size="8" text-anchor="middle" font-weight="normal" font-style="normal" fill="#151515" stroke="#151515" stroke-width="0.22">40</text>
<line x1="262.622" y1="341.9" x2="262.622" y2="344.2" stroke="#1a1a1a" stroke-width="1"/>
<text x="262.622" y="351.2" font-size="8" text-anchor="middle" font-weight="normal" font-style="normal" fill="#151515" stroke="#151515" stroke-width="0.22">60</text>
<line x1="287.496" y1="341.9" x2="287.496" y2="344.2" stroke="#1a1a1a" stroke-width="1"/>
<text x="287.496" y="351.2" font-size="8" text-anchor="middle" font-weight="normal" font-style="normal" fill="#151515" stroke="#151515" stroke-width="0.22">80</text>
<text x="244.4" y="362.1" font-size="8" text-anchor="middle" font-weight="normal" font-style="normal" fill="#151515" stroke="#151515" stroke-width="0.22">Time after allo-HCT (days)</text>
<text x="169.3" y="298.9" font-size="8" text-anchor="middle" font-weight="normal" font-style="normal" fill="#151515" stroke="#151515" stroke-width="0.22" transform="rotate(-90 169.3 298.9)">Percent survival</text>
<path d="M188.10 261.20H198.60V277.34H201.90V293.48H209.40V317.69H216.60V341.90" stroke="#1a1a1a" stroke-width="1.0" fill="none"/>
<path d="M188.10 261.20H198.60V269.27H207.60V277.34H212.30V293.48H230.20V301.55H242.10V309.62H293.80V309.62" stroke="#1a1a1a" stroke-width="1.0" fill="none"/>
<path d="M188.10 261.20H208.80V269.27H216.70V277.34H217.90V285.41H228.00V293.48H258.50V301.55H277.40V309.62H288.60V317.69H293.80V317.69" stroke="#1a1a1a" stroke-width="1.0" fill="none"/>
<path d="M188.10 261.20H225.40V277.34H231.10V285.41H255.20V293.48H263.90V301.55H293.80V301.55" stroke="#1a1a1a" stroke-width="1.0" fill="none"/>
<circle cx="198.6" cy="277.34" r="2.2325" fill="#000"/>
<circle cx="201.9" cy="285.40999999999997" r="2.2325" fill="#000"/>
<circle cx="201.9" cy="293.47999999999996" r="2.2325" fill="#000"/>
<circle cx="209.4" cy="301.54999999999995" r="2.2325" fill="#000"/>
<circle cx="209.4" cy="309.62" r="2.2325" fill="#000"/>
<circle cx="209.4" cy="317.69" r="2.2325" fill="#000"/>
<circle cx="216.6" cy="325.76" r="2.2325" fill="#000"/>
<circle cx="216.6" cy="333.83" r="2.2325" fill="#000"/>
<circle cx="216.6" cy="341.9" r="2.2325" fill="#000"/>
<path d="M196.5 270.95L198.6 267.16999999999996L200.7 270.95Z" fill="#fff" stroke="#000" stroke-width="0.85"/>
<path d="M205.5 279.02L207.6 275.23999999999995L209.7 279.02Z" fill="#fff" stroke="#000" stroke-width="0.85"/>
<path d="M209.70000000000002 287.09L211.8 283.30999999999995L213.9 287.09Z" fill="#fff" stroke="#000" stroke-width="0.85"/>
<path d="M210.5 295.15999999999997L212.6 291.37999999999994L214.7 295.15999999999997Z" fill="#fff" stroke="#000" stroke-width="0.85"/>
<path d="M228.1 303.22999999999996L230.2 299.44999999999993L232.29999999999998 303.22999999999996Z" fill="#fff" stroke="#000" stroke-width="0.85"/>
<path d="M240.0 311.3L242.1 307.52L244.2 311.3Z" fill="#fff" stroke="#000" stroke-width="0.85"/>
<path d="M291.7 311.3L293.8 307.52L295.90000000000003 311.3Z" fill="#fff" stroke="#000" stroke-width="0.85"/>
<circle cx="208.8" cy="269.27" r="2.0" fill="#fff" stroke="#000" stroke-width="1.1"/>
<circle cx="216.7" cy="277.34" r="2.0" fill="#fff" stroke="#000" stroke-width="1.1"/>
<circle cx="217.9" cy="285.40999999999997" r="2.0" fill="#fff" stroke="#000" stroke-width="1.1"/>
<circle cx="228.0" cy="293.47999999999996" r="2.0" fill="#fff" stroke="#000" stroke-width="1.1"/>
<circle cx="258.5" cy="301.54999999999995" r="2.0" fill="#fff" stroke="#000" stroke-width="1.1"/>
<circle cx="277.4" cy="309.62" r="2.0" fill="#fff" stroke="#000" stroke-width="1.1"/>
<circle cx="288.6" cy="317.69" r="2.0" fill="#fff" stroke="#000" stroke-width="1.1"/>
<circle cx="293.8" cy="317.69" r="2.0" fill="#fff" stroke="#000" stroke-width="1.1"/>
<path d="M223.20000000000002 271.03L225.4 267.07L227.6 271.03Z" fill="#000"/>
<path d="M223.20000000000002 279.09999999999997L225.4 275.14L227.6 279.09999999999997Z" fill="#000"/>
<path d="M228.9 287.16999999999996L231.1 283.21L233.29999999999998 287.16999999999996Z" fill="#000"/>
<path d="M253.0 295.23999999999995L255.2 291.28L257.4 295.23999999999995Z" fill="#000"/>
<path d="M261.7 303.30999999999995L263.9 299.34999999999997L266.09999999999997 303.30999999999995Z" fill="#000"/>
<path d="M291.6 303.30999999999995L293.8 299.34999999999997L296.0 303.30999999999995Z" fill="#000"/>
<text transform="translate(347.5 196.9) scale(1 1.14)" x="0" y="0" font-size="10.5" font-weight="bold" fill="#000" stroke="#000" stroke-width="0.35">E</text>
<rect x="358.2" y="201.0" width="8.5" height="6.4" fill="#000"/>
<rect x="358.2" y="210.1" width="8.5" height="6.4" fill="#7d7d7d"/>
<rect x="358.2" y="220.1" width="8.5" height="6.4" fill="#000"/>
<path d="M352.75 218.30L362.75 228.30M355.95 218.30L365.95 228.30M359.15 218.30L369.15 228.30" stroke="#fff" stroke-width="1.25" clip-path="url(#lc5)"/>
<rect x="358.2" y="230.3" width="8.5" height="6.4" fill="#8a8a8a"/>
<path d="M352.75 238.50L362.75 228.50M355.95 238.50L365.95 228.50M359.15 238.50L369.15 228.50" stroke="#fff" stroke-width="1.25" clip-path="url(#lc6)"/>
<text x="370.8" y="206.6" font-size="7.12" text-anchor="start" font-weight="normal" font-style="normal" fill="#151515" stroke="#151515" stroke-width="0.22" textLength="102.70" lengthAdjust="spacing">NC-transfected WT T cells (n=4)</text>
<text x="370.8" y="216.1" font-size="7.12" text-anchor="start" font-weight="normal" font-style="normal" fill="#151515" stroke="#151515" stroke-width="0.22" textLength="143.70" lengthAdjust="spacing">miR-146a Mimic-transfected WT T cells (n=5)</text>
<text x="370.8" y="226.6" font-size="7.12" text-anchor="start" font-weight="normal" font-style="normal" fill="#151515" stroke="#151515" stroke-width="0.22" textLength="108.40" lengthAdjust="spacing">NC-transfected <tspan font-style="italic">Tnf</tspan><tspan font-size="4.7" dy="-3.0" dx="0.7" font-style="normal">-/-</tspan><tspan dy="3.0" dx="0.2"> </tspan>T cells (n=5)</text>
<text x="370.8" y="236.6" font-size="7.12" text-anchor="start" font-weight="normal" font-style="normal" fill="#151515" stroke="#151515" stroke-width="0.22" textLength="148.90" lengthAdjust="spacing">miR-146a Mimic-transfected <tspan font-style="italic">Tnf</tspan><tspan font-size="4.7" dy="-3.0" dx="0.7" font-style="normal">-/-</tspan><tspan dy="3.0" dx="0.2"> </tspan>T cells (n=5)</text>
<line x1="374.1" y1="254.4" x2="374.1" y2="342.2" stroke="#1a1a1a" stroke-width="1"/>
<line x1="373.6" y1="341.7" x2="505.1" y2="341.7" stroke="#1a1a1a" stroke-width="1"/>
<line x1="372.1" y1="341.7" x2="374.1" y2="341.7" stroke="#1a1a1a" stroke-width="1"/>
<text x="371.0" y="344.59999999999997" font-size="8" text-anchor="end" font-weight="normal" font-style="normal" fill="#151515" stroke="#151515" stroke-width="0.22">0</text>
<line x1="372.1" y1="320.05" x2="374.1" y2="320.05" stroke="#1a1a1a" stroke-width="1"/>
<text x="371.0" y="322.95" font-size="8" text-anchor="end" font-weight="normal" font-style="normal" fill="#151515" stroke="#151515" stroke-width="0.22">1</text>
<line x1="372.1" y1="298.4" x2="374.1" y2="298.4" stroke="#1a1a1a" stroke-width="1"/>
<text x="371.0" y="301.29999999999995" font-size="8" text-anchor="end" font-weight="normal" font-style="normal" fill="#151515" stroke="#151515" stroke-width="0.22">2</text>
<line x1="372.1" y1="276.75" x2="374.1" y2="276.75" stroke="#1a1a1a" stroke-width="1"/>
<text x="371.0" y="279.65" font-size="8" text-anchor="end" font-weight="normal" font-style="normal" fill="#151515" stroke="#151515" stroke-width="0.22">3</text>
<line x1="372.1" y1="255.1" x2="374.1" y2="255.1" stroke="#1a1a1a" stroke-width="1"/>
<text x="371.0" y="258.0" font-size="8" text-anchor="end" font-weight="normal" font-style="normal" fill="#151515" stroke="#151515" stroke-width="0.22">4</text>
<line x1="396.1" y1="341.7" x2="396.1" y2="344.0" stroke="#1a1a1a" stroke-width="1"/>
<line x1="440.0" y1="341.7" x2="440.0" y2="344.0" stroke="#1a1a1a" stroke-width="1"/>
<line x1="484.1" y1="341.7" x2="484.1" y2="344.0" stroke="#1a1a1a" stroke-width="1"/>
<text x="396.2" y="351.5" font-size="8" text-anchor="middle" font-weight="normal" font-style="normal" fill="#151515" stroke="#151515" stroke-width="0.22">Small intestine</text>
<text x="439.7" y="351.5" font-size="8" text-anchor="middle" font-weight="normal" font-style="normal" fill="#151515" stroke="#151515" stroke-width="0.22">Colon</text>
<text x="483.3" y="351.5" font-size="8" text-anchor="middle" font-weight="normal" font-style="normal" fill="#151515" stroke="#151515" stroke-width="0.22">Liver</text>
<text x="362.3" y="296.5" font-size="8" text-anchor="middle" font-weight="normal" font-style="normal" fill="#151515" stroke="#151515" stroke-width="0.22" transform="rotate(-90 362.3 296.5)">GvHD histopathology score</text>
<line x1="382.0" y1="273.3" x2="382.0" y2="270.6" stroke="#111" stroke-width="1.0"/>
<line x1="379.75" y1="270.6" x2="384.25" y2="270.6" stroke="#111" stroke-width="1.0"/>
<rect x="378.3" y="273.3" width="7.399999999999977" height="68.39999999999998" fill="#000"/>
<line x1="391.4" y1="302.4" x2="391.4" y2="296.8" stroke="#444" stroke-width="1.0"/>
<line x1="389.15" y1="296.8" x2="393.65" y2="296.8" stroke="#444" stroke-width="1.0"/>
<rect x="388.0" y="302.4" width="6.800000000000011" height="39.30000000000001" fill="#7d7d7d"/>
<line x1="400.85" y1="304.3" x2="400.85" y2="300.3" stroke="#111" stroke-width="1.0"/>
<line x1="398.6" y1="300.3" x2="403.1" y2="300.3" stroke="#111" stroke-width="1.0"/>
<rect x="398.0" y="304.8" width="5.699999999999989" height="36.89999999999998" fill="url(#hb)" stroke="#000" stroke-width="1"/>
<line x1="410.1" y1="300.1" x2="410.1" y2="294.5" stroke="#666" stroke-width="1.0"/>
<line x1="407.85" y1="294.5" x2="412.35" y2="294.5" stroke="#666" stroke-width="1.0"/>
<rect x="407.1" y="300.6" width="6.0" height="41.099999999999966" fill="url(#hg)" stroke="#777" stroke-width="1"/>
<line x1="425.7" y1="273.3" x2="425.7" y2="265.1" stroke="#111" stroke-width="1.0"/>
<line x1="423.45" y1="265.1" x2="427.95" y2="265.1" stroke="#111" stroke-width="1.0"/>
<rect x="422.0" y="273.3" width="7.399999999999977" height="68.39999999999998" fill="#000"/>
<line x1="435.3" y1="302.4" x2="435.3" y2="296.8" stroke="#444" stroke-width="1.0"/>
<line x1="433.05" y1="296.8" x2="437.55" y2="296.8" stroke="#444" stroke-width="1.0"/>
<rect x="431.8" y="302.4" width="7.0" height="39.30000000000001" fill="#7d7d7d"/>
<line x1="444.35" y1="302.4" x2="444.35" y2="298.0" stroke="#111" stroke-width="1.0"/>
<line x1="442.1" y1="298.0" x2="446.6" y2="298.0" stroke="#111" stroke-width="1.0"/>
<rect x="441.6" y="302.9" width="5.5" height="38.80000000000001" fill="url(#hb)" stroke="#000" stroke-width="1"/>
<line x1="454.1" y1="302.6" x2="454.1" y2="298.0" stroke="#666" stroke-width="1.0"/>
<line x1="451.85" y1="298.0" x2="456.35" y2="298.0" stroke="#666" stroke-width="1.0"/>
<rect x="451.1" y="303.1" width="6.0" height="38.599999999999966" fill="url(#hg)" stroke="#777" stroke-width="1"/>
<line x1="469.7" y1="270.5" x2="469.7" y2="265.1" stroke="#111" stroke-width="1.0"/>
<line x1="467.45" y1="265.1" x2="471.95" y2="265.1" stroke="#111" stroke-width="1.0"/>
<rect x="466.2" y="270.5" width="7.0" height="71.19999999999999" fill="#000"/>
<line x1="479.0" y1="304.3" x2="479.0" y2="301.9" stroke="#444" stroke-width="1.0"/>
<line x1="476.75" y1="301.9" x2="481.25" y2="301.9" stroke="#444" stroke-width="1.0"/>
<rect x="475.5" y="304.3" width="7.0" height="37.39999999999998" fill="#7d7d7d"/>
<line x1="488.55" y1="304.3" x2="488.55" y2="295.4" stroke="#111" stroke-width="1.0"/>
<line x1="486.3" y1="295.4" x2="490.8" y2="295.4" stroke="#111" stroke-width="1.0"/>
<rect x="485.3" y="304.8" width="6.5" height="36.89999999999998" fill="url(#hb)" stroke="#000" stroke-width="1"/>
<line x1="497.6" y1="306.6" x2="497.6" y2="301.5" stroke="#666" stroke-width="1.0"/>
<line x1="495.35" y1="301.5" x2="499.85" y2="301.5" stroke="#666" stroke-width="1.0"/>
<rect x="494.6" y="307.1" width="6.0" height="34.599999999999966" fill="url(#hg)" stroke="#777" stroke-width="1"/>
<path d="M381.9 248.4V246.3H392.6V248.4" stroke="#111" stroke-width="1.0" fill="none"/>
<path d="M384.98 242.32L384.98 244.48M384.04 242.86L385.91 243.94M385.91 242.86L384.04 243.94M388.23 242.32L388.23 244.48M387.29 242.86L389.16 243.94M389.16 242.86L387.29 243.94" stroke="#111" stroke-width="0.95" fill="none"/>
<path d="M381.9 255.6V253.5H399.5V255.6" stroke="#111" stroke-width="1.0" fill="none"/>
<path d="M384.98 249.02L384.98 251.18M384.04 249.56L385.91 250.64M385.91 249.56L384.04 250.64M388.23 249.02L388.23 251.18M387.29 249.56L389.16 250.64M389.16 249.56L387.29 250.64" stroke="#111" stroke-width="0.95" fill="none"/>
<path d="M381.9 263.1V261.0H410.3V263.1" stroke="#111" stroke-width="1.0" fill="none"/>
<path d="M384.98 256.72L384.98 258.88M384.04 257.26L385.91 258.34M385.91 257.26L384.04 258.34M388.23 256.72L388.23 258.88M387.29 257.26L389.16 258.34M389.16 257.26L387.29 258.34" stroke="#111" stroke-width="0.95" fill="none"/>
<path d="M425.5 248.4V246.3H434.9V248.4" stroke="#111" stroke-width="1.0" fill="none"/>
<path d="M429.80 242.32L429.80 244.48M428.86 242.86L430.74 243.94M430.74 242.86L428.86 243.94" stroke="#111" stroke-width="0.95" fill="none"/>
<path d="M425.5 255.6V253.5H442.5V255.6" stroke="#111" stroke-width="1.0" fill="none"/>
<path d="M429.80 249.02L429.80 251.18M428.86 249.56L430.74 250.64M430.74 249.56L428.86 250.64" stroke="#111" stroke-width="0.95" fill="none"/>
<path d="M425.5 263.1V261.0H453.7V263.1" stroke="#111" stroke-width="1.0" fill="none"/>
<path d="M429.80 256.72L429.80 258.88M428.86 257.26L430.74 258.34M430.74 257.26L428.86 258.34" stroke="#111" stroke-width="0.95" fill="none"/>
<path d="M469.2 248.6V246.5H479.6V248.6" stroke="#111" stroke-width="1.0" fill="none"/>
<path d="M472.57 242.32L472.57 244.48M471.64 242.86L473.51 243.94M473.51 242.86L471.64 243.94M475.82 242.32L475.82 244.48M474.89 242.86L476.76 243.94M476.76 242.86L474.89 243.94" stroke="#111" stroke-width="0.95" fill="none"/>
<path d="M469.2 255.9V253.8H486.8V255.9" stroke="#111" stroke-width="1.0" fill="none"/>
<path d="M474.60 249.42L474.60 251.58M473.66 249.96L475.54 251.04M475.54 249.96L473.66 251.04" stroke="#111" stroke-width="0.95" fill="none"/>
<path d="M469.2 263.1V261.0H498.1V263.1" stroke="#111" stroke-width="1.0" fill="none"/>
<path d="M472.57 256.72L472.57 258.88M471.64 257.26L473.51 258.34M473.51 257.26L471.64 258.34M475.82 256.72L475.82 258.88M474.89 257.26L476.76 258.34M476.76 257.26L474.89 258.34" stroke="#111" stroke-width="0.95" fill="none"/>
</svg>
</body></html>
